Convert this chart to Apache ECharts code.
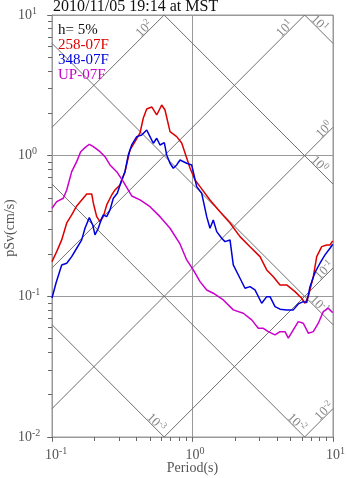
<!DOCTYPE html>
<html><head><meta charset="utf-8">
<script src="https://cdn.jsdelivr.net/npm/echarts@6/dist/echarts.min.js"></script>
<style>html,body{margin:0;padding:0;background:#fff}#c{width:347px;height:478px}</style>
</head><body><div id="c"></div>
<script>
// ---------- data ----------
const titleText = '2010/11/05 19:14 at MST';
const dampingText = 'h= 5%';
const seriesNames = ['258-07F', '348-07F', 'UP-07F'];
const seriesColors = ['#dd0000', '#0000dd', '#cc00cc'];
const xAxisName = 'Period(s)';
const yAxisName = 'pSv(cm/s)';

const redT = [0.1,0.108,0.1172,0.1273,0.1381,0.1499,0.1627,0.1766,0.1917,0.1968,0.208,0.2196,0.2318,0.2451,0.266,0.2808,0.3048,0.3308,0.3591,0.3898,0.4231,0.4466,0.4721,0.5126,0.5563,0.6037,0.6372,0.6918,0.7718,0.8377,0.9093,0.9598,1.042,1.131,1.332,1.569,1.849,2.178,2.566,3.023,3.375,3.76,4.196,4.683,5.364,5.985,6.32,6.672,7.241,7.656,8.312,9.02,9.52,9.95];
const redPSV = [0.1765,0.2078,0.2518,0.3324,0.379,0.4391,0.4844,0.534,0.534,0.4612,0.3686,0.3395,0.3686,0.4464,0.5254,0.5706,0.6194,0.7697,1.098,1.257,1.45,1.853,2.147,2.219,1.947,2.293,2.113,1.481,1.365,1.231,0.963,0.818,0.672,0.602,0.4844,0.3999,0.3324,0.2657,0.2255,0.1915,0.154,0.138,0.1205,0.1205,0.108,0.0969,0.0893,0.0995,0.138,0.1915,0.2255,0.2319,0.2319,0.2476];

const blueT = [0.1,0.1068,0.1172,0.1273,0.1381,0.1499,0.1627,0.1717,0.1843,0.1949,0.2023,0.2135,0.2258,0.2318,0.2451,0.2587,0.2731,0.2916,0.3133,0.3308,0.3492,0.3693,0.4008,0.435,0.4721,0.4983,0.526,0.5563,0.5871,0.6299,0.6552,0.6918,0.7302,0.7718,0.8147,0.9093,0.987,1.071,1.163,1.262,1.332,1.406,1.487,1.614,1.703,1.849,1.951,2.178,2.364,2.566,2.785,3.108,3.375,3.561,3.866,4.196,4.683,5.217,5.662,6.145,6.499,6.86,7.446,8.082,8.77,9.52,9.95];
const bluePSV = [0.0974,0.1245,0.1672,0.1719,0.1915,0.2197,0.2518,0.3048,0.3626,0.3217,0.2732,0.3048,0.3591,0.379,0.3686,0.4113,0.4981,0.5402,0.672,0.7697,1.012,1.191,1.365,1.403,1.523,1.365,1.225,1.329,1.191,1.237,1.012,0.883,0.8136,0.8589,0.932,0.883,0.8589,0.602,0.5402,0.3686,0.3048,0.3491,0.2884,0.2588,0.2448,0.2518,0.1672,0.1345,0.1142,0.1172,0.111,0.0893,0.0995,0.0995,0.0845,0.081,0.0801,0.0801,0.0883,0.0917,0.0902,0.1172,0.1481,0.1719,0.197,0.2197,0.2346];

const magT = [0.1,0.108,0.1203,0.1273,0.1381,0.1499,0.16,0.1717,0.1843,0.1968,0.2196,0.2384,0.2587,0.2887,0.3217,0.3693,0.4231,0.4983,0.5871,0.6918,0.8147,0.9093,1.013,1.131,1.262,1.406,1.657,1.951,2.299,2.638,2.94,3.191,3.463,3.866,4.196,4.553,4.807,5.217,5.662,6.145,6.672,7.241,7.859,8.531,9.26,9.95];
const magPSV = [0.4229,0.471,0.4981,0.5706,0.7697,0.9067,1.067,1.14,1.205,1.159,1.067,0.9838,0.8589,0.7697,0.6533,0.5171,0.4844,0.434,0.3686,0.3048,0.2357,0.1815,0.154,0.1272,0.111,0.1052,0.0943,0.0801,0.0758,0.068,0.0593,0.0593,0.0561,0.0532,0.0561,0.0561,0.0504,0.0577,0.0661,0.0644,0.0547,0.0561,0.0644,0.0779,0.0823,0.0766];

// tripartite reference levels (exponents of 10)
const accExponents = [-2, -1, 0, 1, 2];    // pseudo-acceleration, cm/s^2
const dispExponents = [-3, -2, -1, 0, 1];  // displacement, cm
const xRange = [0.1, 10];
const yRange = [0.01, 10];
const minorMultipliers = [1,2,3,4,5,6,7,8,9];

// ---------- build ----------
const SERIF = "'Liberation Serif','DejaVu Serif','Times New Roman',serif";
function pairs(T, P) { return T.map((t, i) => [t, P[i]]); }
const curves = [pairs(redT, redPSV), pairs(blueT, bluePSV), pairs(magT, magPSV)];

function minorTicks(lo, hi) {
  const out = [];
  for (let e = Math.round(Math.log10(lo)); e < Math.round(Math.log10(hi)); e++)
    minorMultipliers.forEach(m => out.push(m * Math.pow(10, e)));
  out.push(hi);
  return out;
}

const uMin = Math.log10(xRange[0]), uMax = Math.log10(xRange[1]);
const vMin = Math.log10(yRange[0]), vMax = Math.log10(yRange[1]);
const L2PI = Math.log10(2 * Math.PI);
const EPS = 1e-9;
function clip(slope, c) {
  const pts = [];
  [uMin, uMax].forEach(u => { const v = slope * u + c; if (v >= vMin - EPS && v <= vMax + EPS) pts.push([u, v, 'x']); });
  [vMin, vMax].forEach(v => { const u = (v - c) / slope; if (u > uMin + EPS && u < uMax - EPS) pts.push([u, v, v === vMax ? 'top' : 'bottom']); });
  pts.sort((a, b) => a[0] - b[0]);
  return [pts[0], pts[pts.length - 1]];
}
const refLines = [];
const refLabels = [];
const P = 0.03, S = Math.SQRT1_2;
accExponents.forEach(k => {
  const [a, b] = clip(1, k - L2PI);
  refLines.push([[Math.pow(10, a[0]), Math.pow(10, a[1])], [Math.pow(10, b[0]), Math.pow(10, b[1])]]);
  const d = b[2] === 'top' ? 0.12 : 0.04;
  const fu = b[0] - d, fv = b[1] - d;
  refLabels.push({ value: [Math.pow(10, fu - P * S), Math.pow(10, fv + P * S)], exp: k, label: { rotate: 45 } });
});
dispExponents.forEach(k => {
  const [a, b] = clip(-1, k + L2PI);
  refLines.push([[Math.pow(10, a[0]), Math.pow(10, a[1])], [Math.pow(10, b[0]), Math.pow(10, b[1])]]);
  const d = b[2] === 'bottom' ? 0.08 : 0.12;
  const fu = b[0] - d, fv = b[1] + d;
  refLabels.push({ value: [Math.pow(10, fu + P * S), Math.pow(10, fv + P * S)], exp: k, label: { rotate: -45 } });
});

const expOf = v => Math.round(Math.log10(v));
const axisRich = {
  b: { fontSize: 14, lineHeight: 18, fontFamily: SERIF, color: '#555' },
  s: { fontSize: 10, lineHeight: 10, verticalAlign: 'top', fontFamily: SERIF, color: '#555' },
  p: { fontSize: 10, lineHeight: 10, verticalAlign: 'top', fontFamily: SERIF, color: 'transparent' }
};

const series = [];
refLines.forEach(seg => series.push({
  type: 'line', data: seg, symbol: 'none', silent: true, z: 1,
  lineStyle: { color: '#707070', width: 1 }
}));
series.push({
  type: 'scatter', symbolSize: 0, silent: true, z: 2,
  data: refLabels.map(r => ({ value: r.value, name: String(r.exp), label: r.label })),
  label: {
    show: true, position: 'inside',
    formatter: p => '{b|10}{s|' + p.name + '}',
    rich: {
      b: { fontSize: 13, lineHeight: 16, fontFamily: SERIF, color: '#666' },
      s: { fontSize: 9, lineHeight: 9, verticalAlign: 'top', fontFamily: SERIF, color: '#666' }
    }
  }
});
curves.forEach((c, i) => series.push({
  name: seriesNames[i], type: 'line', data: c, symbol: 'none', z: 5,
  lineStyle: { color: seriesColors[i], width: 1.5 }
}));

const tickAxisCommon = {
  axisLine: { show: true, lineStyle: { color: '#999' } }, axisLabel: { show: false }, splitLine: { show: false }
};
const minorTick = vals => ({ show: true, inside: false, length: 4, customValues: vals, lineStyle: { color: '#666', width: 1 } });
const option = {
  animation: false,
  backgroundColor: '#fff',
  grid: { left: 52, right: 14, top: 15, bottom: 41, show: true, borderColor: '#999', borderWidth: 1,
    containLabel: false, outerBoundsMode: 'none' },
  xAxis: [{
    type: 'log', logBase: 10, min: xRange[0], max: xRange[1], position: 'bottom',
    axisLine: { show: true, lineStyle: { color: '#999' } },
    axisTick: { show: true, inside: false, length: 5, lineStyle: { color: '#888' } },
    axisLabel: { margin: 9, showMinLabel: true, showMaxLabel: true,
      formatter: v => { const e = expOf(v); return '{p|' + e + '}{b|10}{s|' + e + '}'; }, rich: axisRich },
    splitLine: { show: true, lineStyle: { color: '#999', width: 1 } }
  }, Object.assign({
    type: 'log', logBase: 10, min: xRange[0], max: xRange[1], position: 'bottom', offset: 0,
    axisTick: minorTick(minorTicks(xRange[0], xRange[1]))
  }, tickAxisCommon)],
  yAxis: [{
    type: 'log', logBase: 10, min: yRange[0], max: yRange[1], position: 'left',
    axisLine: { show: true, lineStyle: { color: '#999' } },
    axisTick: { show: true, inside: false, length: 5, lineStyle: { color: '#888' } },
    axisLabel: { margin: 34, align: 'left', showMinLabel: true, showMaxLabel: true,
      formatter: v => '{b|10}{s|' + expOf(v) + '}', rich: axisRich },
    splitLine: { show: true, lineStyle: { color: '#999', width: 1 } }
  }, Object.assign({
    type: 'log', logBase: 10, min: yRange[0], max: yRange[1], position: 'left', offset: 0,
    axisTick: minorTick(minorTicks(yRange[0], yRange[1]))
  }, tickAxisCommon)],
  graphic: [
    { type: 'text', x: 53, y: 7, style: { text: titleText, font: '16px ' + SERIF, fill: '#111', verticalAlign: 'middle' } },
    { type: 'text', x: 58, y: 30, style: { text: dampingText, font: '15px ' + SERIF, fill: '#111', verticalAlign: 'middle' }, z: 10 },
    { type: 'text', x: 192.5, y: 468, style: { text: xAxisName, font: '14px ' + SERIF, fill: '#555', align: 'center', verticalAlign: 'middle' } },
    { type: 'text', x: 10, y: 228, rotation: Math.PI / 2, style: { text: yAxisName, font: '14px ' + SERIF, fill: '#555', align: 'center', verticalAlign: 'middle' } }
  ].concat(seriesNames.map((n, i) => ({
    type: 'text', x: 58, y: 45 + 15 * i, z: 10,
    style: { text: n, font: '15px ' + SERIF, fill: seriesColors[i], verticalAlign: 'middle' }
  }))),
  series: series
};
const chart = echarts.init(document.getElementById('c'), null, { renderer: 'canvas' });
chart.setOption(option);
</script>
</body></html>
